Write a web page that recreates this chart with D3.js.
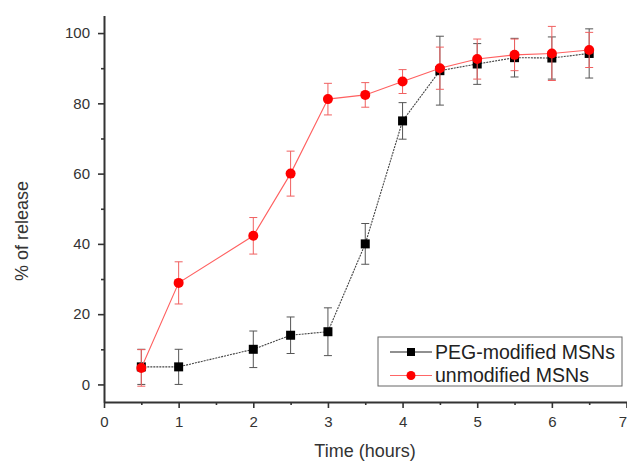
<!DOCTYPE html>
<html>
<head>
<meta charset="utf-8">
<title>Release profile</title>
<script src="https://d3js.org/d3.v7.min.js"></script>
<style>
  body { margin: 0; background: #fff; }
  text { font-family: "Liberation Sans", Arial, sans-serif; }
</style>
</head>
<body>
<svg width="627" height="461"></svg>
<script>
// time points (hours)
const times = [0.5, 1, 2, 2.5, 3, 3.5, 4, 4.5, 5, 5.5, 6, 6.5];

// PEG-modified MSNs
const pegVals = [5, 5, 10, 14, 15, 40, 75, 89.3, 91.2, 93, 92.9, 94.2];
const pegErr  = [5, 5, 5.2, 5.2, 6.8, 5.8, 5.2, 9.8, 5.8, 5.5, 6, 7];

// unmodified MSNs
const unmodVals = [4.7, 28.9, 42.3, 60, 81.2, 82.4, 86.2, 90, 92.6, 93.8, 94.2, 95.2];
const unmodErr  = [5.2, 6, 5.2, 6.4, 4.5, 3.5, 3.4, 6, 5.7, 4.5, 7.7, 5];

const xMajor = [0, 1, 2, 3, 4, 5, 6, 7];
const xMinor = [0.5, 1.5, 2.5, 3.5, 4.5, 5.5, 6.5];
const yMajor = [0, 20, 40, 60, 80, 100];
const yMinor = [10, 30, 50, 70, 90];

const svg = d3.select("svg");

const x = d3.scaleLinear().domain([0, 7]).range([104, 626.5]);
const y = d3.scaleLinear().domain([-5, 105]).range([402, 15.5]);

const axisColor = "#333";

// y axis
const yAxis = svg.append("g").attr("transform", "translate(104,0)");
yAxis.call(d3.axisLeft(y).tickValues(yMajor).tickFormat(d3.format("d"))
  .tickSize(6).tickSizeOuter(0).tickPadding(8));
yAxis.append("g").call(d3.axisLeft(y).tickValues(yMinor).tickSize(3).tickFormat(""))
  .select(".domain").remove();

// x axis
const xAxis = svg.append("g").attr("transform", "translate(0,402)");
xAxis.call(d3.axisBottom(x).tickValues(xMajor).tickFormat(d3.format("d"))
  .tickSize(6).tickSizeOuter(0).tickPadding(8));
xAxis.append("g").call(d3.axisBottom(x).tickValues(xMinor).tickSize(3).tickFormat(""))
  .select(".domain").remove();

// last label sits on the page edge; keep it inside
xAxis.selectAll(".tick text").filter(d => d === 7).attr("text-anchor", "end");

svg.selectAll(".domain").attr("stroke", axisColor).attr("stroke-width", 2);
svg.selectAll(".tick line").attr("stroke", axisColor).attr("stroke-width", 1.6);
svg.selectAll(".tick text")
  .attr("fill", axisColor)
  .style("font-size", "15px")
  .style("font-family", "Liberation Sans, Arial, sans-serif");

// axis titles
svg.append("text")
  .attr("x", 365).attr("y", 457)
  .attr("text-anchor", "middle")
  .attr("fill", axisColor)
  .style("font-size", "18px")
  .text("Time (hours)");

svg.append("text")
  .attr("transform", "translate(28,231) rotate(-90)")
  .attr("text-anchor", "middle")
  .attr("fill", axisColor)
  .style("font-size", "18px")
  .text("% of release");

function drawSeries(vals, errs, lineColor, errColor, dash, marker) {
  const pts = times.map((t, i) => ({ t: t, v: vals[i], e: errs[i] }));
  const g = svg.append("g");

  // error bars
  const eb = g.append("g").attr("stroke", errColor).attr("stroke-width", 1);
  eb.selectAll("line.v").data(pts).join("line")
    .attr("x1", d => x(d.t)).attr("x2", d => x(d.t))
    .attr("y1", d => y(d.v - d.e)).attr("y2", d => y(d.v + d.e));
  eb.selectAll("line.top").data(pts).join("line").attr("class", "top")
    .attr("x1", d => x(d.t) - 4).attr("x2", d => x(d.t) + 4)
    .attr("y1", d => y(d.v + d.e)).attr("y2", d => y(d.v + d.e));
  eb.selectAll("line.bot").data(pts).join("line").attr("class", "bot")
    .attr("x1", d => x(d.t) - 4).attr("x2", d => x(d.t) + 4)
    .attr("y1", d => y(d.v - d.e)).attr("y2", d => y(d.v - d.e));

  const line = d3.line().x(d => x(d.t)).y(d => y(d.v));
  g.append("path").datum(pts)
    .attr("d", line)
    .attr("fill", "none")
    .attr("stroke", lineColor)
    .attr("stroke-width", 1.1)
    .attr("stroke-dasharray", dash);

  if (marker === "square") {
    g.selectAll("rect").data(pts).join("rect")
      .attr("x", d => x(d.t) - 4.5).attr("y", d => y(d.v) - 4.5)
      .attr("width", 9).attr("height", 9)
      .attr("fill", "#000");
  } else {
    g.selectAll("circle").data(pts).join("circle")
      .attr("cx", d => x(d.t)).attr("cy", d => y(d.v))
      .attr("r", 5)
      .attr("fill", "#f00");
  }
}

drawSeries(pegVals, pegErr, "#444", "#555", "2,1", "square");
drawSeries(unmodVals, unmodErr, "#ff6060", "#f06060", null, "circle");

// legend
const lg = svg.append("g");
lg.append("rect")
  .attr("x", 378).attr("y", 337).attr("width", 244).attr("height", 49)
  .attr("fill", "#fff").attr("stroke", "#666").attr("stroke-width", 1);

const legendItems = [
  { label: "PEG-modified MSNs", color: "#000", line: "#222", marker: "square", yy: 352 },
  { label: "unmodified MSNs", color: "#f00", line: "#ff6666", marker: "circle", yy: 375.5 }
];
legendItems.forEach(it => {
  lg.append("line")
    .attr("x1", 390).attr("x2", 432).attr("y1", it.yy).attr("y2", it.yy)
    .attr("stroke", it.line).attr("stroke-width", 1.2);
  if (it.marker === "square") {
    lg.append("rect").attr("x", 411 - 4).attr("y", it.yy - 4)
      .attr("width", 8).attr("height", 8).attr("fill", it.color);
  } else {
    lg.append("circle").attr("cx", 411).attr("cy", it.yy).attr("r", 4.5).attr("fill", it.color);
  }
  lg.append("text")
    .attr("x", 435).attr("y", it.yy + 6.5)
    .attr("fill", "#222")
    .style("font-size", "19.5px")
    .text(it.label);
});
</script>
</body>
</html>
